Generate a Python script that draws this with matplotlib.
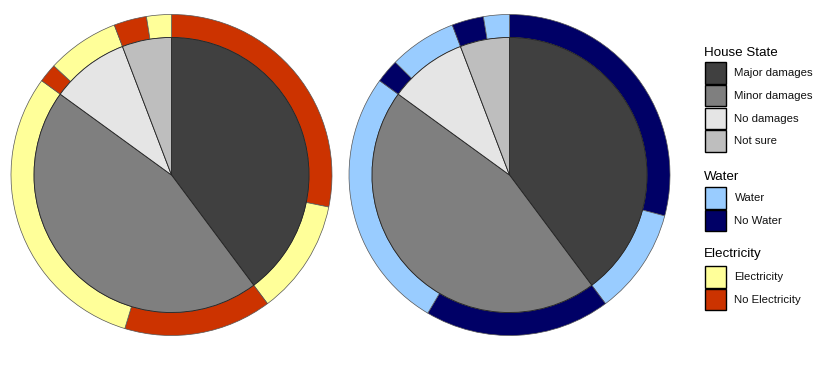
import numpy as np
import matplotlib
matplotlib.use("Agg")
import matplotlib.pyplot as plt
from matplotlib.patches import Rectangle

plt.rcParams['font.family'] = ['Liberation Sans', 'DejaVu Sans']

# house state shares (percent of all answers), clockwise from 12 o'clock
house_states = ["Major damages", "Minor damages", "No damages", "Not sure"]
house_pct = [39.8, 45.2, 9.2, 5.8]
house_colors = ["#404040", "#7f7f7f", "#e5e5e5", "#bebebe"]

# outer ring: electricity split inside each house state
elec_labels = ["Electricity", "No Electricity"]
elec_yes = [11.6, 30.3, 7.3, 2.5]
elec_no = [28.2, 14.9, 1.9, 3.3]
elec_colors = ["#ffff99", "#cc3300"]

# outer ring: water split inside each house state
water_labels = ["Water", "No Water"]
water_yes = [10.7, 26.5, 6.8, 2.6]
water_no = [29.1, 18.7, 2.4, 3.2]
water_colors = ["#99ccff", "#000066"]

W, H = 826, 366
fig = plt.figure(figsize=(W / 100, H / 100), dpi=100)

R_OUT = 160.5
R_IN = 137.5


def pie_axes(cx, cy):
    half = 168
    ax = fig.add_axes([(cx - half) / W, (H - cy - half) / H, 2 * half / W, 2 * half / H])
    lim = half / R_OUT
    ax.set_xlim(-lim, lim)
    ax.set_ylim(-lim, lim)
    ax.set_aspect("equal")
    ax.axis("off")
    return ax


def draw(ax, no_vals, yes_vals, colors):
    ring_vals, ring_cols = [], []
    for n, y in zip(no_vals, yes_vals):
        ring_vals += [n, y]
        ring_cols += [colors[1], colors[0]]
    ax.pie(ring_vals, colors=ring_cols, radius=1.0, startangle=90, counterclock=False,
           wedgeprops=dict(width=1 - R_IN / R_OUT, edgecolor="#555555", linewidth=0.5))
    ax.pie(house_pct, colors=house_colors, radius=R_IN / R_OUT, startangle=90,
           counterclock=False, wedgeprops=dict(edgecolor="#222222", linewidth=0.6))
    ax.set_xlim(-168 / R_OUT, 168 / R_OUT)
    ax.set_ylim(-168 / R_OUT, 168 / R_OUT)


draw(pie_axes(171.5, 175), elec_no, elec_yes, elec_colors)
draw(pie_axes(509.5, 175), water_no, water_yes, water_colors)

# legend, laid out in pixel units
lg = fig.add_axes([690 / W, 0, (W - 690) / W, 1])
lg.set_xlim(690, W)
lg.set_ylim(H, 0)
lg.axis("off")


def block(title, title_y, labels, cols, top):
    lg.text(704, title_y, title, fontsize=9.6, va="baseline", ha="left", color="black")
    y = top
    for lab, c in zip(labels, cols):
        lg.add_patch(Rectangle((704.5, y), 21.5, 21.5, facecolor=c, edgecolor="black", linewidth=1.0))
        lg.text(734.5, y + 11, lab, fontsize=8.2, va="center", ha="left", color="#111111")
        y += 22.8


block("House State", 55.5, house_states, house_colors, 62)
block("Water", 180.5, water_labels, water_colors, 187)
block("Electricity", 256.5, elec_labels, elec_colors, 266)

fig.savefig("out.png", dpi=100)
